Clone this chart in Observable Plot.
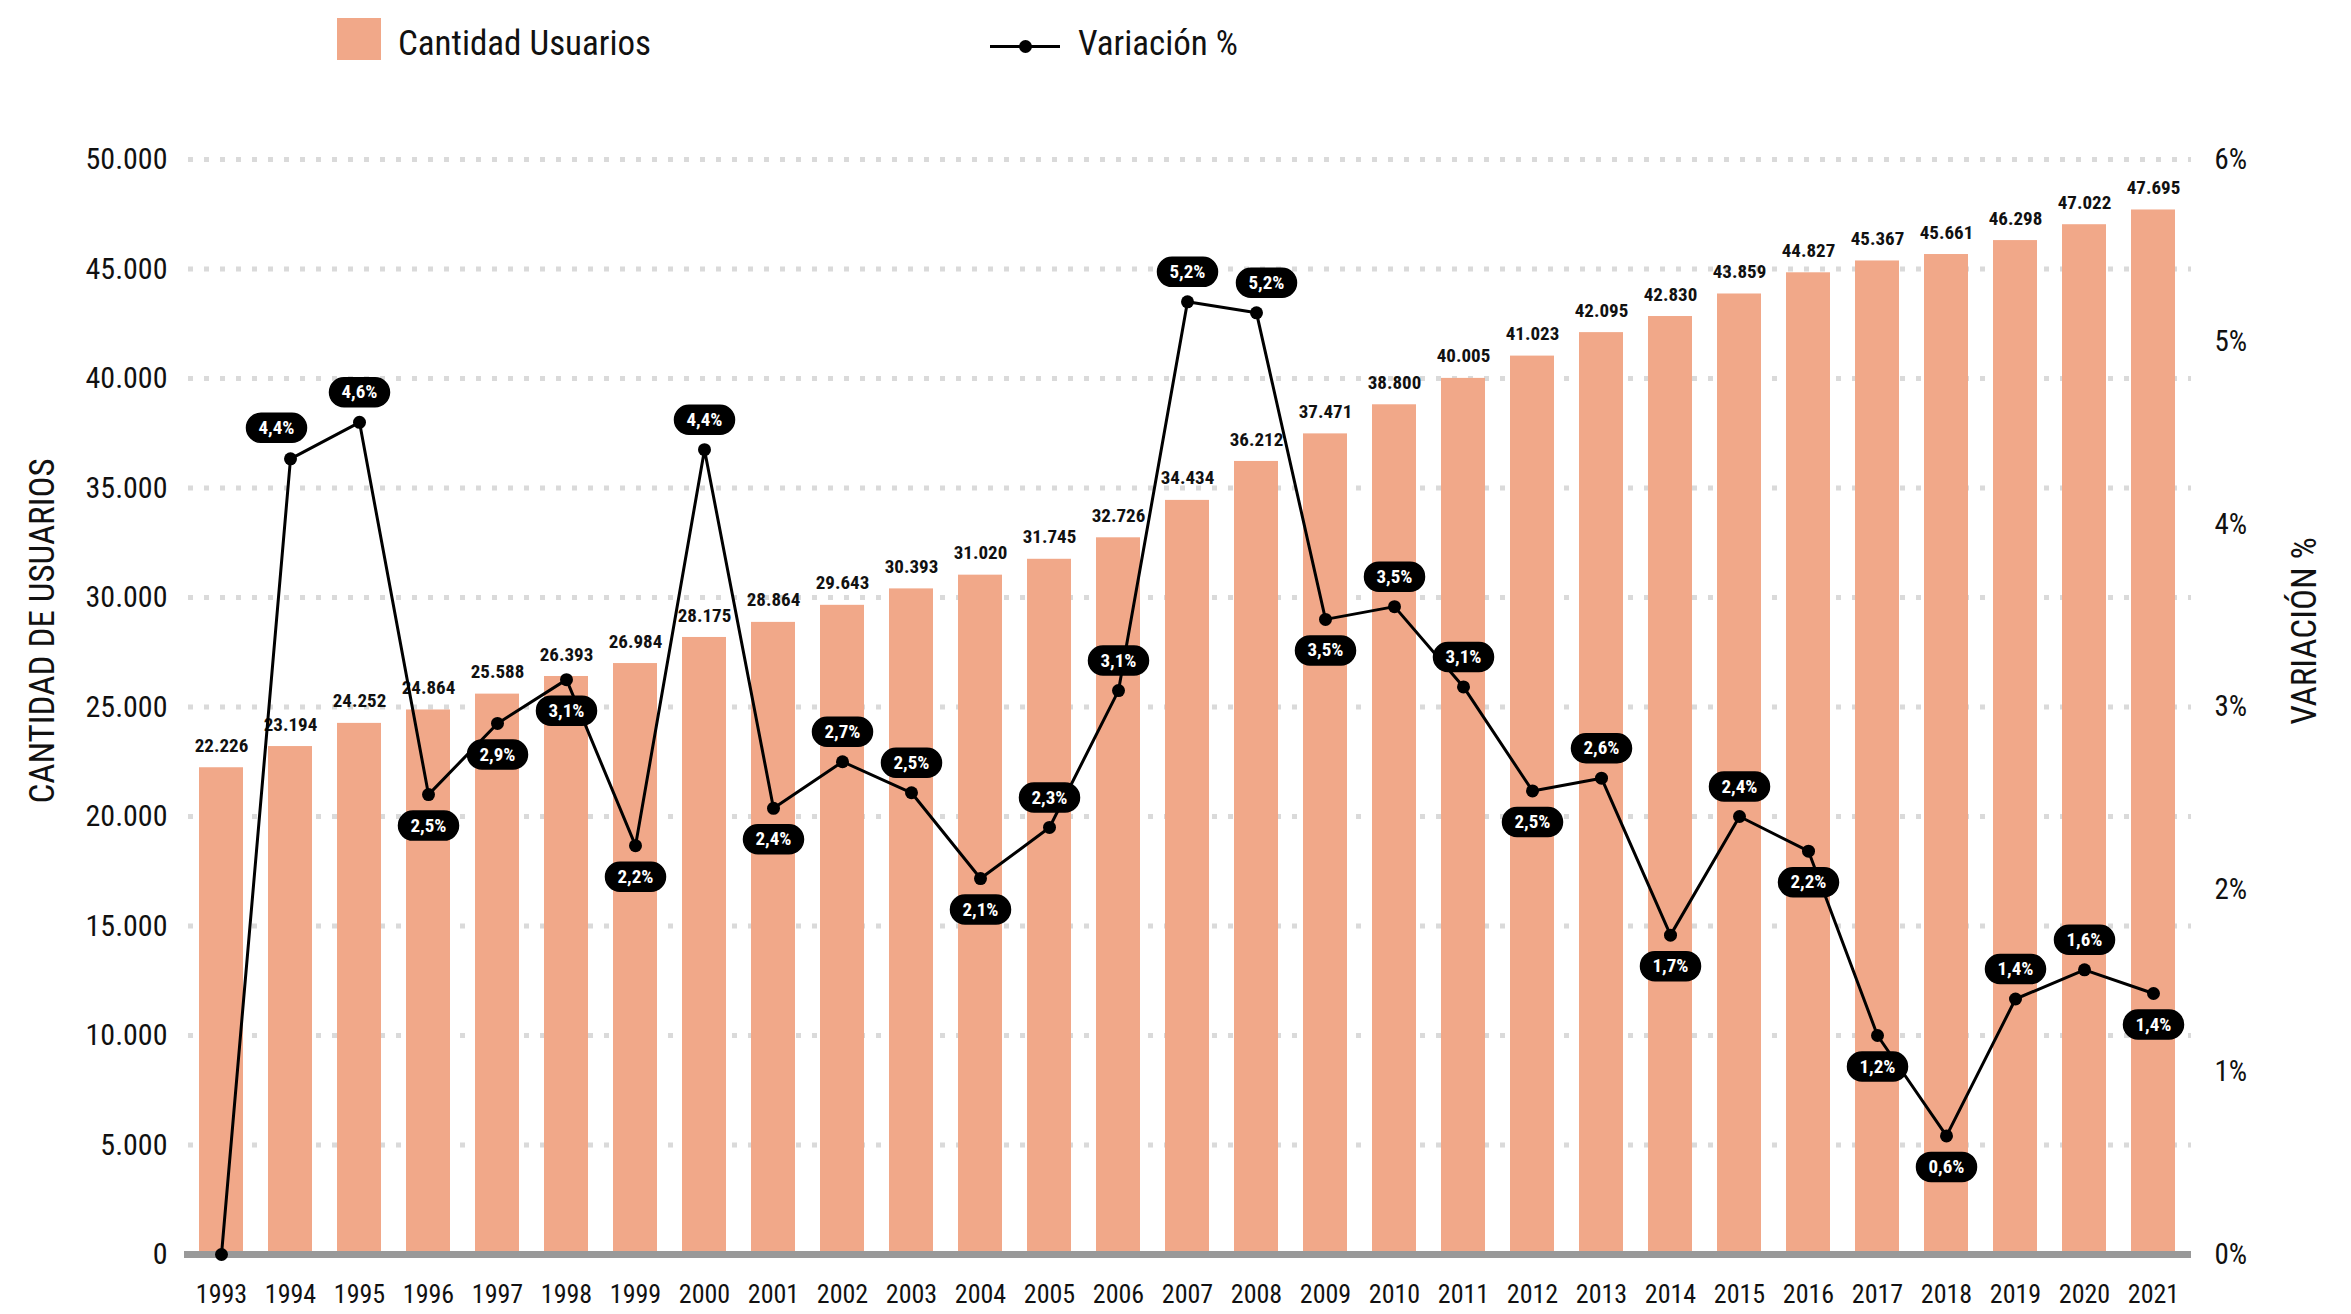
<!DOCTYPE html>
<html>
<head>
<meta charset="utf-8">
<script src="https://cdn.jsdelivr.net/npm/d3@7"></script>
<script src="https://cdn.jsdelivr.net/npm/@observablehq/plot@0.6"></script>
<style>
  html, body { margin: 0; padding: 0; background: #fff; }
  body { width: 2351px; height: 1314px; overflow: hidden;
    font-family: "Roboto Condensed", "Liberation Sans Narrow", "DejaVu Sans Condensed", Roboto, sans-serif; font-stretch: condensed; }
  #legend { position: relative; width: 2351px; height: 100px; }
  .sw { position: absolute; }
  .lt { position: absolute; font-size: 35px; color: #111; line-height: 1; }
  #chart svg { font-family: "Roboto Condensed", "Liberation Sans Narrow", "DejaVu Sans Condensed", Roboto, sans-serif; font-stretch: condensed; }
</style>
</head>
<body>
<div id="legend">
  <div class="sw" style="left:337px; top:18px; width:44px; height:42px; background:#f1a889;"></div>
  <div class="lt" style="left:398px; top:26px;">Cantidad Usuarios</div>
  <div class="sw" style="left:990px; top:45px; width:70px; height:3px; background:#000;"></div>
  <div class="sw" style="left:1019px; top:40px; width:13px; height:13px; border-radius:50%; background:#000;"></div>
  <div class="lt" style="left:1078px; top:26px;">Variación %</div>
</div>
<div id="chart"></div>
<script>
// ---- data ----
const years = ["1993","1994","1995","1996","1997","1998","1999","2000","2001","2002","2003","2004","2005","2006","2007","2008","2009","2010","2011","2012","2013","2014","2015","2016","2017","2018","2019","2020","2021"];
const users = [22226,23194,24252,24864,25588,26393,26984,28175,28864,29643,30393,31020,31745,32726,34434,36212,37471,38800,40005,41023,42095,42830,43859,44827,45367,45661,46298,47022,47695];
const variation = [0,4.36,4.56,2.52,2.91,3.15,2.24,4.41,2.445,2.70,2.53,2.06,2.34,3.09,5.22,5.16,3.48,3.55,3.11,2.54,2.61,1.75,2.40,2.21,1.20,0.65,1.40,1.56,1.43];
const variationLabels = ["","4,4%","4,6%","2,5%","2,9%","3,1%","2,2%","4,4%","2,4%","2,7%","2,5%","2,1%","2,3%","3,1%","5,2%","5,2%","3,5%","3,5%","3,1%","2,5%","2,6%","1,7%","2,4%","2,2%","1,2%","0,6%","1,4%","1,6%","1,4%"];
const leftTicks = [0,5000,10000,15000,20000,25000,30000,35000,40000,45000,50000];
const rightTicks = [0,1,2,3,4,5,6];

// ---- table ----
const table = years.map((year, i) => ({year, users: users[i], variation: variation[i], label: variationLabels[i]}));

// label placement (style)
const below = new Set(["1996","1997","1998","1999","2001","2004","2009","2012","2014","2016","2017","2018","2021"]);
const shiftLeft = new Set(["1994"]);
const shiftRight = new Set(["2008"]);

const YMAX = 50000, PMAX = 6;
const K = YMAX / PMAX; // maps % onto the shared vertical scale
const loc = d3.formatLocale({decimal: ",", thousands: ".", grouping: [3], currency: ["", ""]});
const fmt = loc.format(",d");

const pill = {
  draw(ctx) {
    const w = 30, h = 14.5;
    ctx.moveTo(-w + h, -h);
    ctx.lineTo(w - h, -h);
    ctx.arc(w - h, 0, h, -Math.PI / 2, Math.PI / 2);
    ctx.lineTo(-w + h, h);
    ctx.arc(-w + h, 0, h, Math.PI / 2, 3 * Math.PI / 2);
    ctx.closePath();
  }
};

function pillMarks(filter, dx, dy) {
  const data = table.filter(d => d.label !== "" && filter(d));
  return [
    Plot.dot(data, {x: "year", y: d => d.variation * K, symbol: pill, fill: "#000", stroke: "#000", dx, dy}),
    Plot.text(data, {x: "year", y: d => d.variation * K, text: "label", fill: "#fff", fontWeight: "bold", fontSize: 19, dx, dy})
  ];
}

const chart = Plot.plot({
  width: 2351,
  height: 1214,
  marginTop: 59,
  marginBottom: 60,
  marginLeft: 184,
  marginRight: 160,
  style: {fontSize: "26px", color: "#111", background: "#fff"},
  x: {type: "band", domain: years, paddingInner: 0.36, paddingOuter: 0.18},
  y: {domain: [0, YMAX], nice: false},
  marks: [
    Plot.gridY(leftTicks.filter(t => t > 0), {stroke: "#dadada", strokeOpacity: 1, strokeWidth: 5, strokeDasharray: "5,11", strokeDashoffset: -4}),
    Plot.barY(table, {x: "year", y: "users", fill: "#f1a889"}),
    Plot.ruleY([0], {stroke: "#999", strokeWidth: 7}),
    Plot.text(table, {x: "year", y: "users", text: d => fmt(d.users), dy: -22, fontWeight: "bold", fontSize: 19, fill: "#111"}),
    Plot.line(table, {x: "year", y: d => d.variation * K, stroke: "#000", strokeWidth: 3}),
    Plot.dot(table, {x: "year", y: d => d.variation * K, fill: "#000", r: 6.5}),
    ...pillMarks(d => below.has(d.year), 0, 31),
    ...pillMarks(d => !below.has(d.year) && !shiftLeft.has(d.year) && !shiftRight.has(d.year), 0, -30),
    ...pillMarks(d => shiftLeft.has(d.year), -14, -31),
    ...pillMarks(d => shiftRight.has(d.year), 10, -30),
    Plot.axisY(leftTicks, {anchor: "left", tickSize: 0, tickPadding: 17, tickFormat: fmt, label: null, fontSize: 30}),
    Plot.axisY(rightTicks.map(t => t * K), {anchor: "right", tickSize: 0, tickPadding: 23, tickFormat: d => Math.round(d / K) + "%", label: null, fontSize: 29}),
    Plot.axisX({tickSize: 0, tickPadding: 30, label: null, fontSize: 26}),
    Plot.text(["CANTIDAD DE USUARIOS"], {frameAnchor: "left", textAnchor: "middle", text: d => d, rotate: -90, dx: -142, dy: -76, fontSize: 35}),
    Plot.text(["VARIACIÓN %"], {frameAnchor: "right", textAnchor: "middle", text: d => d, rotate: -90, dx: 113, dy: -76, fontSize: 35})
  ]
});
document.getElementById("chart").appendChild(chart);
</script>
</body>
</html>
